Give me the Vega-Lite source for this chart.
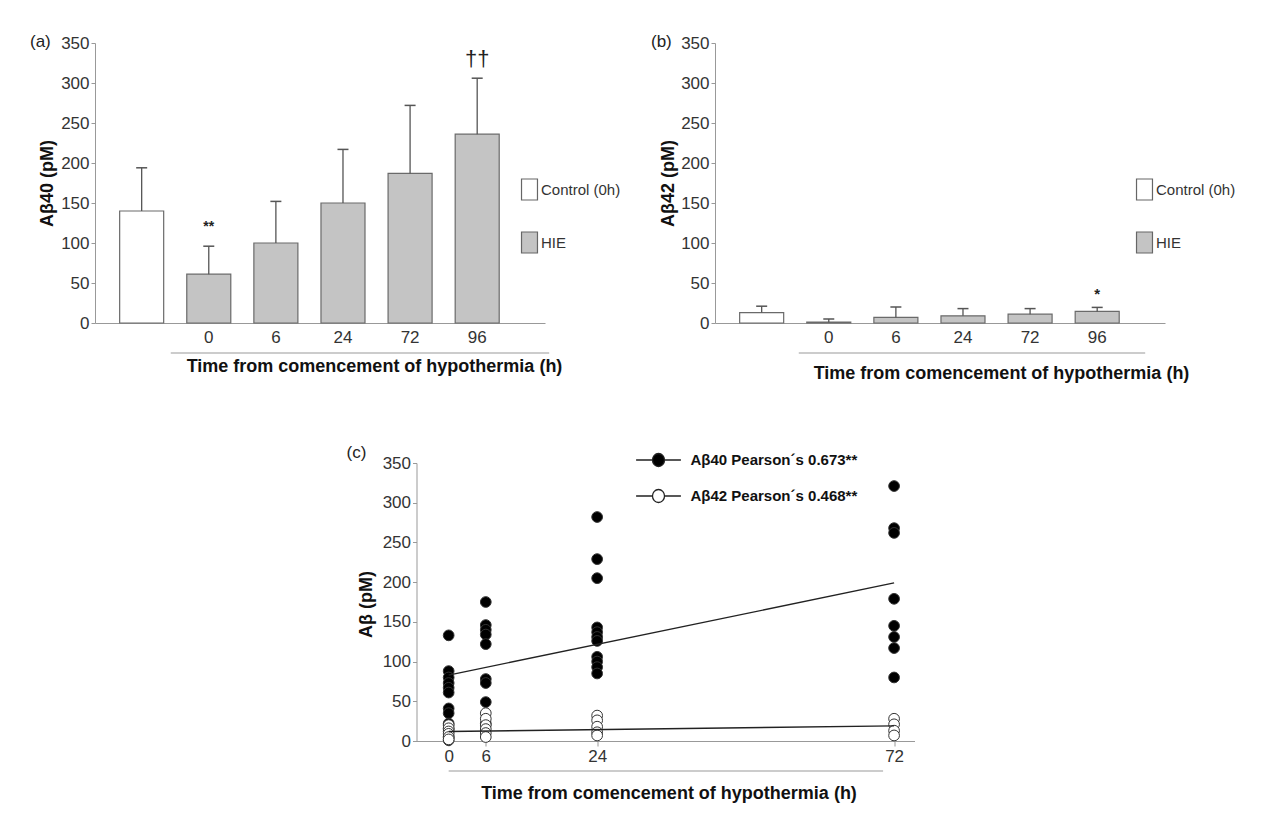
{
  "$schema": "https://vega.github.io/schema/vega-lite/v6.json",
  "background": "white",
  "padding": {"left": 30, "top": 33, "right": 10, "bottom": 10},
  "config": {
    "view": {"stroke": null},
    "font": "Liberation Sans",
    "axis": {"labelFont": "Liberation Sans", "titleFont": "Liberation Sans", "grid": false, "domainColor": "#999", "tickColor": "#999", "labelColor": "#333", "titleColor": "#111", "labelFontSize": 17, "titleFontSize": 18, "titleFontWeight": "bold"},
    "legend": {"labelFont": "Liberation Sans", "labelColor": "#333"},
    "title": {"font": "Liberation Sans", "fontSize": 17, "fontWeight": "normal", "color": "#222"}
  },
  "resolve": {"scale": {"fill": "independent"}, "legend": {"fill": "independent"}},
  "vconcat": [
    {
      "resolve": {"scale": {"fill": "independent"}, "legend": {"fill": "independent"}},
      "hconcat": [
        {
          "width": 450,
          "height": 280,
          "title": {"text": "(a)", "anchor": "start", "frame": "group", "dx": -65, "baseline": "middle", "dy": 29},
          "data": {"values": [
            {"group": "Control", "grp": "Control (0h)", "mean": 140, "upper": 194},
            {"group": "0", "grp": "HIE", "mean": 61, "upper": 96},
            {"group": "6", "grp": "HIE", "mean": 100, "upper": 152},
            {"group": "24", "grp": "HIE", "mean": 150, "upper": 217},
            {"group": "72", "grp": "HIE", "mean": 187, "upper": 272},
            {"group": "96", "grp": "HIE", "mean": 236, "upper": 306}
          ]},
          "encoding": {
            "x": {"field": "group", "type": "nominal", "sort": null,
              "scale": {"domain": ["Control", "0", "6", "24", "72", "96"], "paddingInner": 0.344, "paddingOuter": 0.525, "align": 0.35},
              "axis": {"title": "Time from comencement of hypothermia (h)", "labelExpr": "datum.value == 'Control' ? '' : datum.value", "labelAngle": 0, "ticks": false, "labelPadding": 6, "titleX": 279, "titleY": 43, "titleBaseline": "middle"}}
          },
          "layer": [
            {
              "mark": {"type": "bar", "stroke": "#6a6a6a", "strokeWidth": 1.2},
              "encoding": {
                "y": {"field": "mean", "type": "quantitative", "scale": {"domain": [0, 350], "nice": false},
                  "axis": {"title": "Aβ40 (pM)", "values": [0, 50, 100, 150, 200, 250, 300, 350], "tickCount": 8, "labelOverlap": false, "tickSize": 4, "titleX": -48, "titleY": 140, "titleBaseline": "middle"}},
                "fill": {"field": "grp", "type": "nominal", "scale": {"domain": ["Control (0h)", "HIE"], "range": ["#ffffff", "#c4c4c4"]},
                  "legend": {"orient": "none", "legendX": 423, "legendY": 135, "title": null, "symbolType": "M-0.76,-1H0.76V1H-0.76Z", "symbolSize": 441, "symbolStrokeColor": "#666", "symbolStrokeWidth": 1.2, "labelFontSize": 15, "rowPadding": 26, "labelOffset": 0}}
              }
            },
            {
              "mark": {"type": "rule", "color": "#555", "strokeWidth": 1.3},
              "encoding": {
                "y": {"field": "mean", "type": "quantitative"},
                "y2": {"field": "upper"}
              }
            },
            {
              "mark": {"type": "tick", "color": "#555", "size": 11, "thickness": 1.5, "opacity": 1},
              "encoding": {
                "y": {"field": "upper", "type": "quantitative"}
              }
            },
            {
              "data": {"values": [{"group": "0", "sig": "**", "at": 120}]},
              "mark": {"type": "text", "fontSize": 14, "fontWeight": "bold", "color": "#222", "baseline": "middle"},
              "encoding": {
                "y": {"field": "at", "type": "quantitative"},
                "text": {"field": "sig"}
              }
            },
            {
              "data": {"values": [{"group": "96", "sig": "††", "at": 330}]},
              "mark": {"type": "text", "fontSize": 22, "color": "#222", "baseline": "middle"},
              "encoding": {
                "y": {"field": "at", "type": "quantitative"},
                "text": {"field": "sig"}
              }
            },
            {
              "data": {"values": [{"group": "0", "to": "96", "base": 0}]},
              "mark": {"type": "rule", "color": "#999", "strokeWidth": 1, "yOffset": 30, "xOffset": -38, "x2Offset": 72},
              "encoding": {
                "x2": {"field": "to"},
                "y": {"field": "base", "type": "quantitative"}
              }
            }
          ]
        },
        {
          "width": 450,
          "height": 280,
          "title": {"text": "(b)", "anchor": "start", "frame": "group", "dx": -64, "baseline": "middle", "dy": 29},
          "data": {"values": [
            {"group": "Control", "grp": "Control (0h)", "mean": 13, "upper": 21},
            {"group": "0", "grp": "HIE", "mean": 1, "upper": 5},
            {"group": "6", "grp": "HIE", "mean": 7, "upper": 20},
            {"group": "24", "grp": "HIE", "mean": 9, "upper": 18},
            {"group": "72", "grp": "HIE", "mean": 11, "upper": 18},
            {"group": "96", "grp": "HIE", "mean": 14.5, "upper": 19.5}
          ]},
          "encoding": {
            "x": {"field": "group", "type": "nominal", "sort": null,
              "scale": {"domain": ["Control", "0", "6", "24", "72", "96"], "paddingInner": 0.344, "paddingOuter": 0.525, "align": 0.35},
              "axis": {"title": "Time from comencement of hypothermia (h)", "labelExpr": "datum.value == 'Control' ? '' : datum.value", "labelAngle": 0, "ticks": false, "labelPadding": 6, "titleX": 286, "titleY": 50, "titleBaseline": "middle"}}
          },
          "layer": [
            {
              "mark": {"type": "bar", "stroke": "#6a6a6a", "strokeWidth": 1.2},
              "encoding": {
                "y": {"field": "mean", "type": "quantitative", "scale": {"domain": [0, 350], "nice": false},
                  "axis": {"title": "Aβ42 (pM)", "values": [0, 50, 100, 150, 200, 250, 300, 350], "tickCount": 8, "labelOverlap": false, "tickSize": 4, "titleX": -47, "titleY": 140, "titleBaseline": "middle"}},
                "fill": {"field": "grp", "type": "nominal", "scale": {"domain": ["Control (0h)", "HIE"], "range": ["#ffffff", "#c4c4c4"]},
                  "legend": {"orient": "none", "legendX": 418, "legendY": 135, "title": null, "symbolType": "M-0.76,-1H0.76V1H-0.76Z", "symbolSize": 441, "symbolStrokeColor": "#666", "symbolStrokeWidth": 1.2, "labelFontSize": 15, "rowPadding": 26, "labelOffset": 0}}
              }
            },
            {
              "mark": {"type": "rule", "color": "#555", "strokeWidth": 1.3},
              "encoding": {
                "y": {"field": "mean", "type": "quantitative"},
                "y2": {"field": "upper"}
              }
            },
            {
              "mark": {"type": "tick", "color": "#555", "size": 11, "thickness": 1.5, "opacity": 1},
              "encoding": {
                "y": {"field": "upper", "type": "quantitative"}
              }
            },
            {
              "data": {"values": [{"group": "96", "sig": "*", "at": 36}]},
              "mark": {"type": "text", "fontSize": 15, "fontWeight": "bold", "color": "#222", "baseline": "middle"},
              "encoding": {
                "y": {"field": "at", "type": "quantitative"},
                "text": {"field": "sig"}
              }
            },
            {
              "data": {"values": [{"group": "0", "to": "96", "base": 0}]},
              "mark": {"type": "rule", "color": "#999", "strokeWidth": 1, "yOffset": 30, "xOffset": -30, "x2Offset": 48},
              "encoding": {
                "x2": {"field": "to"},
                "y": {"field": "base", "type": "quantitative"}
              }
            }
          ]
        }
      ],
      "spacing": 30
    },
    {
      "width": 498,
      "height": 278,
      "title": {"text": "(c)", "anchor": "start", "frame": "group", "dx": -70, "baseline": "middle", "dy": 22},
      "layer": [
        {
          "data": {"values": [
            {"series": "Aβ40", "t": 0, "v": 133}, {"series": "Aβ40", "t": 0, "v": 88}, {"series": "Aβ40", "t": 0, "v": 80}, {"series": "Aβ40", "t": 0, "v": 73},
            {"series": "Aβ40", "t": 0, "v": 67}, {"series": "Aβ40", "t": 0, "v": 61}, {"series": "Aβ40", "t": 0, "v": 41}, {"series": "Aβ40", "t": 0, "v": 35},
            {"series": "Aβ40", "t": 0, "v": 22}, {"series": "Aβ40", "t": 0, "v": 15}, {"series": "Aβ40", "t": 0, "v": 5}, {"series": "Aβ40", "t": 0, "v": 1},
            {"series": "Aβ40", "t": 6, "v": 175}, {"series": "Aβ40", "t": 6, "v": 146}, {"series": "Aβ40", "t": 6, "v": 140}, {"series": "Aβ40", "t": 6, "v": 134},
            {"series": "Aβ40", "t": 6, "v": 122}, {"series": "Aβ40", "t": 6, "v": 78}, {"series": "Aβ40", "t": 6, "v": 73}, {"series": "Aβ40", "t": 6, "v": 49},
            {"series": "Aβ40", "t": 6, "v": 22},
            {"series": "Aβ40", "t": 24, "v": 282}, {"series": "Aβ40", "t": 24, "v": 229}, {"series": "Aβ40", "t": 24, "v": 205}, {"series": "Aβ40", "t": 24, "v": 143},
            {"series": "Aβ40", "t": 24, "v": 137}, {"series": "Aβ40", "t": 24, "v": 131}, {"series": "Aβ40", "t": 24, "v": 126}, {"series": "Aβ40", "t": 24, "v": 106},
            {"series": "Aβ40", "t": 24, "v": 100}, {"series": "Aβ40", "t": 24, "v": 93}, {"series": "Aβ40", "t": 24, "v": 85},
            {"series": "Aβ40", "t": 72, "v": 321}, {"series": "Aβ40", "t": 72, "v": 268}, {"series": "Aβ40", "t": 72, "v": 262}, {"series": "Aβ40", "t": 72, "v": 179},
            {"series": "Aβ40", "t": 72, "v": 145}, {"series": "Aβ40", "t": 72, "v": 131}, {"series": "Aβ40", "t": 72, "v": 117}, {"series": "Aβ40", "t": 72, "v": 80},
            {"series": "Aβ42", "t": 0, "v": 20}, {"series": "Aβ42", "t": 0, "v": 16}, {"series": "Aβ42", "t": 0, "v": 12}, {"series": "Aβ42", "t": 0, "v": 9},
            {"series": "Aβ42", "t": 0, "v": 5}, {"series": "Aβ42", "t": 0, "v": 2},
            {"series": "Aβ42", "t": 6, "v": 35}, {"series": "Aβ42", "t": 6, "v": 28}, {"series": "Aβ42", "t": 6, "v": 20}, {"series": "Aβ42", "t": 6, "v": 15},
            {"series": "Aβ42", "t": 6, "v": 10}, {"series": "Aβ42", "t": 6, "v": 5},
            {"series": "Aβ42", "t": 24, "v": 32}, {"series": "Aβ42", "t": 24, "v": 26}, {"series": "Aβ42", "t": 24, "v": 18}, {"series": "Aβ42", "t": 24, "v": 11},
            {"series": "Aβ42", "t": 24, "v": 7},
            {"series": "Aβ42", "t": 72, "v": 28}, {"series": "Aβ42", "t": 72, "v": 21}, {"series": "Aβ42", "t": 72, "v": 13}, {"series": "Aβ42", "t": 72, "v": 7}
          ]},
          "mark": {"type": "point", "shape": "circle", "size": 115, "stroke": "#333", "strokeWidth": 1, "opacity": 1, "fillOpacity": 1},
          "encoding": {
            "x": {"field": "t", "type": "quantitative", "scale": {"domain": [-5.2, 75.3], "nice": false, "zero": false},
              "axis": {"title": "Time from comencement of hypothermia (h)", "values": [0, 6, 24, 72], "tickSize": 5, "labelPadding": 2, "titleX": 252, "titleY": 52, "titleBaseline": "middle"}},
            "y": {"field": "v", "type": "quantitative", "scale": {"domain": [0, 350], "nice": false},
              "axis": {"title": "Aβ (pM)", "values": [0, 50, 100, 150, 200, 250, 300, 350], "tickCount": 8, "labelOverlap": false, "tickSize": 4, "titleX": -50, "titleY": 141, "titleBaseline": "middle"}},
            "fill": {"field": "series", "type": "nominal", "scale": {"domain": ["Aβ40", "Aβ42"], "range": ["#000000", "#ffffff"]},
              "legend": {"orient": "none", "legendX": 234, "legendY": -11, "title": null,
                "symbolType": "M-3.2,0H-0.86M0.86,0H3.2M-0.86,0A0.86,0.93,0,1,0,0.86,0A0.86,0.93,0,1,0,-0.86,0Z",
                "symbolSize": 196, "symbolStrokeColor": "#222", "symbolStrokeWidth": 1.3, "rowPadding": 16, "labelOffset": 24,
                "labelFontSize": 15, "labelFontWeight": "bold", "labelColor": "#111", "labelLimit": 400,
                "labelExpr": "datum.label == 'Aβ40' ? 'Aβ40 Pearson´s 0.673**' : 'Aβ42 Pearson´s 0.468**'"}}
          }
        },
        {
          "data": {"values": [
            {"series": "Aβ40", "t": 0, "fit": 83}, {"series": "Aβ40", "t": 72, "fit": 199},
            {"series": "Aβ42", "t": 0, "fit": 12}, {"series": "Aβ42", "t": 72, "fit": 19}
          ]},
          "mark": {"type": "line", "color": "#222", "strokeWidth": 1.4},
          "encoding": {
            "x": {"field": "t", "type": "quantitative"},
            "y": {"field": "fit", "type": "quantitative"},
            "detail": {"field": "series"}
          }
        },
        {
          "data": {"values": [{"from": 0, "to": 72, "base": 0}]},
          "mark": {"type": "rule", "color": "#999", "strokeWidth": 1, "yOffset": 30, "x2Offset": -11},
          "encoding": {
            "x": {"field": "from", "type": "quantitative"},
            "x2": {"field": "to"},
            "y": {"field": "base", "type": "quantitative"}
          }
        }
      ]
    }
  ],
  "spacing": 62,
  "center": true
}
